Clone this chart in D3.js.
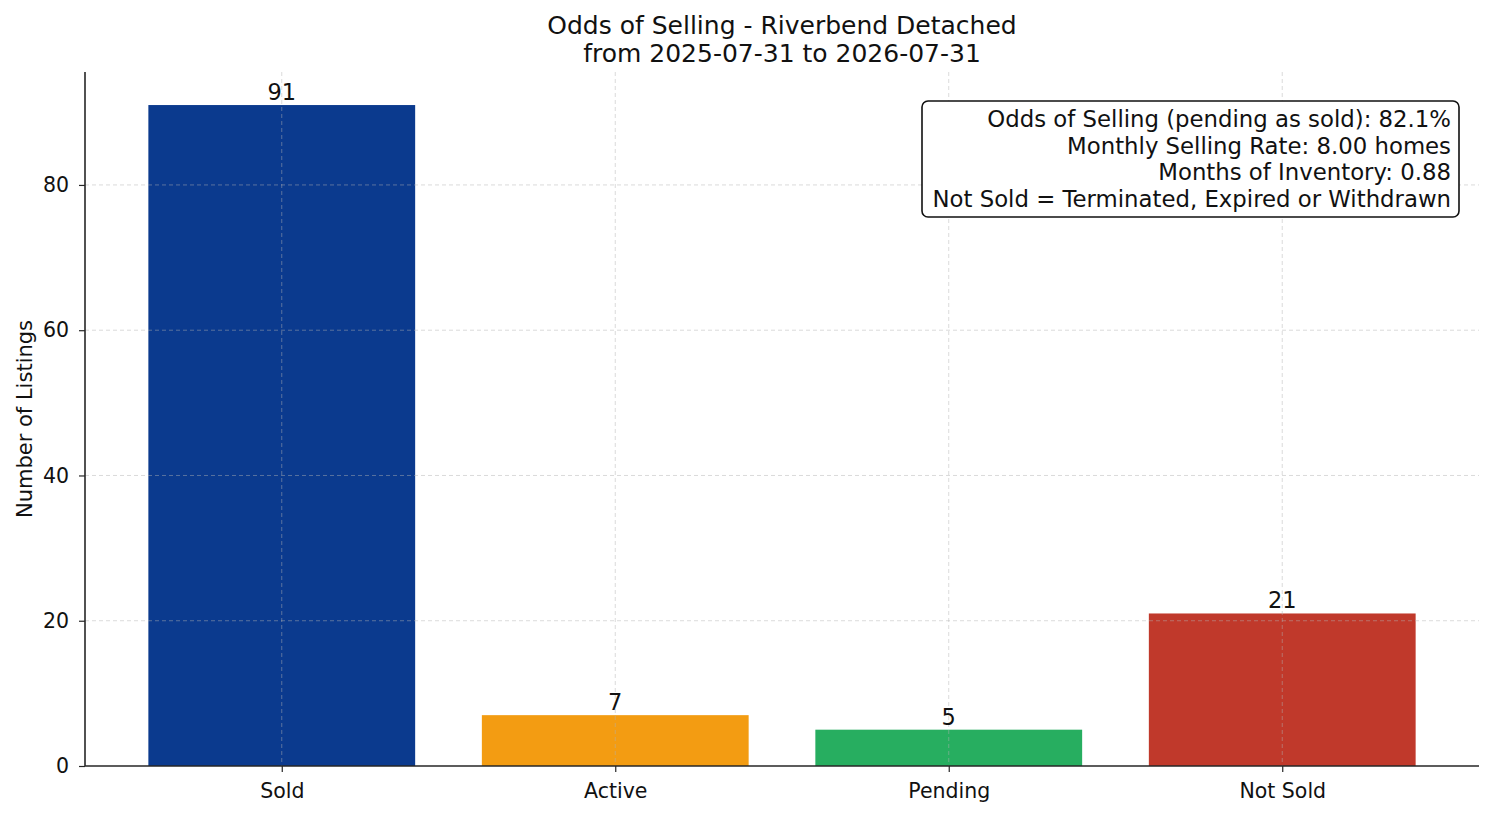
<!DOCTYPE html>
<html>
<head>
<meta charset="utf-8">
<script src="https://cdn.jsdelivr.net/npm/d3@7"></script>
<style>
  body { margin: 0; background: #fff; }
  text { font-family: "DejaVu Sans", sans-serif; }
</style>
</head>
<body>
<svg id="svg"></svg>
<script>
/**
 * DATA
 * */
const categories = ["Sold", "Active", "Pending", "Not Sold"];
const counts = [91, 7, 5, 21];
const barColors = ["#0b3a8e", "#f39c12", "#27ae60", "#c0392b"];
const yTicks = [0, 20, 40, 60, 80];
const titleLines = ["Odds of Selling - Riverbend Detached", "from 2025-07-31 to 2026-07-31"];
const infoLines = [
  "Odds of Selling (pending as sold): 82.1%",
  "Monthly Selling Rate: 8.00 homes",
  "Months of Inventory: 0.88",
  "Not Sold = Terminated, Expired or Withdrawn"
];

/**
 * CONSTANTS
 * */
const width = 1494,
  height = 816,
  margin = { top: 72, bottom: 50, left: 85, right: 15 };

const svg = d3.select("#svg")
  .attr("width", width)
  .attr("height", height);

// x: bar index, 0.8 wide bars with 5% padding like matplotlib
const xScale = d3.scaleLinear()
  .domain([-0.4 - 0.19, categories.length - 1 + 0.4 + 0.19])
  .range([margin.left, width - margin.right]);

const yScale = d3.scaleLinear()
  .domain([0, d3.max(counts) * 1.05])
  .range([height - margin.bottom, margin.top]);

const barW = xScale(0.8) - xScale(0);

// bars
svg.selectAll("rect.bar")
  .data(counts)
  .join("rect")
  .attr("class", "bar")
  .attr("x", (d, i) => xScale(i - 0.4))
  .attr("y", d => yScale(d))
  .attr("width", barW)
  .attr("height", d => yScale(0) - yScale(d))
  .attr("fill", (d, i) => barColors[i]);

// grid (drawn over the bars, faint)
const grid = svg.append("g").attr("stroke", "#b0b0b0").attr("stroke-opacity", 0.6)
  .attr("stroke-width", 0.8).attr("stroke-dasharray", "4,3");
grid.selectAll("line.h")
  .data(yTicks.slice(1))
  .join("line")
  .attr("class", "h")
  .attr("x1", margin.left).attr("x2", width - margin.right)
  .attr("y1", d => yScale(d)).attr("y2", d => yScale(d));
grid.selectAll("line.v")
  .data(categories)
  .join("line")
  .attr("class", "v")
  .attr("x1", (d, i) => xScale(i)).attr("x2", (d, i) => xScale(i))
  .attr("y1", margin.top).attr("y2", height - margin.bottom);

// value labels
svg.selectAll("text.val")
  .data(counts)
  .join("text")
  .attr("class", "val")
  .attr("x", (d, i) => xScale(i))
  .attr("y", d => yScale(d) - 5)
  .attr("text-anchor", "middle")
  .attr("font-size", 22.5)
  .attr("fill", "#111")
  .text(d => d);

// axes
const xAxis = d3.axisBottom(xScale)
  .tickValues(d3.range(categories.length))
  .tickFormat(i => categories[i])
  .tickSize(6).tickPadding(11);
const yAxis = d3.axisLeft(yScale)
  .tickValues(yTicks)
  .tickSize(6).tickPadding(10);

const gx = svg.append("g")
  .attr("transform", `translate(0,${height - margin.bottom})`)
  .call(xAxis);
gx.select(".domain").attr("d", `M${margin.left},0H${width - margin.right}`);

const gy = svg.append("g")
  .attr("transform", `translate(${margin.left},0)`)
  .call(yAxis);
gy.select(".domain").attr("d", `M0,${margin.top}V${height - margin.bottom}`);

[gx, gy].forEach(g => {
  g.attr("font-size", null).attr("font-family", null);
  g.select(".domain").attr("stroke", "#262626").attr("stroke-width", 1.6);
  g.selectAll(".tick line").attr("stroke", "#262626").attr("stroke-width", 1.2);
  g.selectAll(".tick text").style("font-size", "20.5px").attr("fill", "#111");
});

// y label
svg.append("text")
  .attr("transform", `translate(32,${(margin.top + height - margin.bottom) / 2}) rotate(-90)`)
  .attr("text-anchor", "middle")
  .style("font-size", "21px")
  .attr("fill", "#111")
  .text("Number of Listings");

// title
svg.selectAll("text.title")
  .data(titleLines)
  .join("text")
  .attr("class", "title")
  .attr("x", (margin.left + width - margin.right) / 2)
  .attr("y", (d, i) => 34 + i * 28)
  .attr("text-anchor", "middle")
  .style("font-size", "25px")
  .attr("fill", "#111")
  .text(d => d);

// info box
svg.append("rect")
  .attr("x", 922).attr("y", 101)
  .attr("width", 537).attr("height", 116)
  .attr("rx", 6)
  .attr("fill", "#fff")
  .attr("stroke", "#111")
  .attr("stroke-width", 1.6);

svg.selectAll("text.info")
  .data(infoLines)
  .join("text")
  .attr("class", "info")
  .attr("x", 1451)
  .attr("y", (d, i) => 127 + i * 26.5)
  .attr("text-anchor", "end")
  .style("font-size", "22.8px")
  .attr("fill", "#111")
  .text(d => d);
</script>
</body>
</html>
